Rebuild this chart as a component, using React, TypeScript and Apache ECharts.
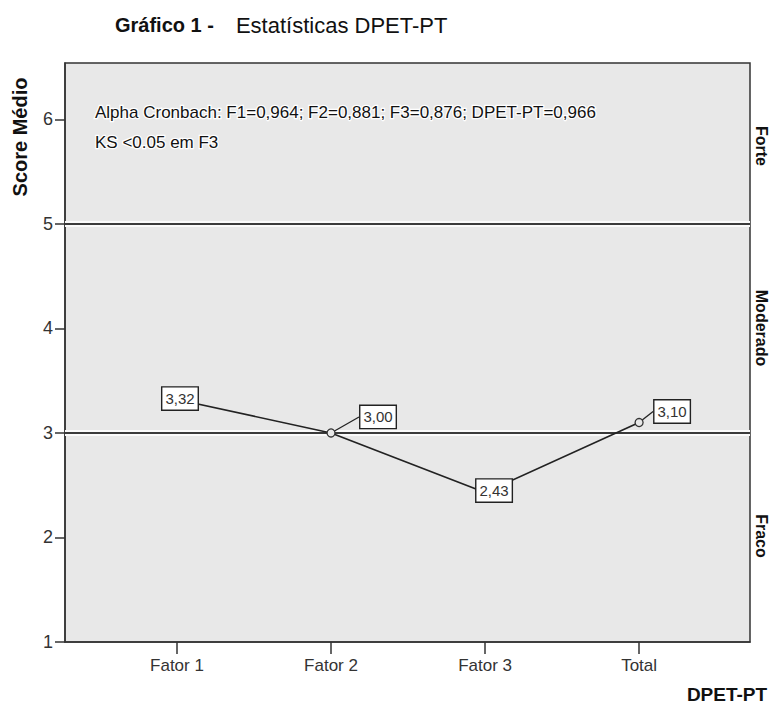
import React, { useEffect, useRef } from "react";
import * as echarts from "echarts";

const categories = ["Fator 1", "Fator 2", "Fator 3", "Total"];
const categoryPositions = [1, 2, 3, 4];
const scores = [3.32, 3.0, 2.43, 3.1];
const yTicks = [1, 2, 3, 4, 5, 6];
const referenceLevels = [3, 5];
const bandLabels = ["Forte", "Moderado", "Fraco"];
const annotationLines = [
  "Alpha Cronbach: F1=0,964; F2=0,881; F3=0,876; DPET-PT=0,966",
  "KS <0.05 em F3",
];
const labelOffsets = [
  [3, -1],
  [47, -16],
  [9, -2],
  [33, -11],
];

const FONT = "'Liberation Sans', Arial, sans-serif";
const INK = "#222";

export default function App() {
  const ref = useRef<HTMLDivElement>(null);
  useEffect(() => {
    if (!ref.current) return;
    const chart = echarts.init(ref.current, undefined, { renderer: "svg" });
    const data = scores.map((v, i) => [categoryPositions[i], v]);
    const bandCenters = [146, 328, 536];
    chart.setOption({
      animation: false,
      backgroundColor: "#ffffff",
      textStyle: { fontFamily: FONT },
      grid: {
        left: 65,
        right: 23,
        top: 63,
        bottom: 65,
        show: true,
        backgroundColor: "#e8e8e8",
        borderColor: "#333",
        borderWidth: 1.5,
      },
      title: {
        text: "{b|Gráfico 1 -}{r|Estatísticas DPET-PT}",
        left: 110,
        top: 9,
        textStyle: {
          rich: {
            b: { fontFamily: FONT, fontWeight: "bold", fontSize: 20, color: "#111", padding: [0, 22, 0, 0] },
            r: { fontFamily: FONT, fontWeight: "normal", fontSize: 22, color: "#111" },
          },
        },
      },
      xAxis: {
        type: "value",
        min: 0.273,
        max: 4.72,
        axisLine: { show: true, lineStyle: { color: "#333", width: 1.5 } },
        axisTick: {
          show: true,
          length: 12,
          customValues: categoryPositions,
          lineStyle: { color: "#333", width: 1.5 },
        },
        axisLabel: {
          customValues: categoryPositions,
          formatter: (v: number) => categories[Math.round(v) - 1] ?? "",
          fontSize: 17,
          color: "#333",
          margin: 15,
          fontFamily: FONT,
        },
        splitLine: { show: false },
      },
      yAxis: {
        type: "value",
        min: 1,
        max: 6.54,
        axisLine: { show: true, lineStyle: { color: "#333", width: 1.5 } },
        axisTick: {
          show: true,
          length: 10,
          customValues: yTicks,
          lineStyle: { color: "#333", width: 1.5 },
        },
        axisLabel: {
          customValues: yTicks,
          fontSize: 18,
          color: "#333",
          margin: 12,
          fontFamily: FONT,
        },
        splitLine: { show: false },
      },
      series: [
        {
          type: "line",
          data: [],
          z: 1,
          silent: true,
          markLine: {
            silent: true,
            symbol: "none",
            label: { show: false },
            data: [
              ...referenceLevels.map((y) => ({ yAxis: y, lineStyle: { color: "#fafafa", width: 6, type: "solid" } })),
              ...referenceLevels.map((y) => ({ yAxis: y, lineStyle: { color: "#3a3a3a", width: 2, type: "solid" } })),
            ],
          },
        },
        {
          type: "line",
          data,
          z: 5,
          symbol: "circle",
          symbolSize: 8,
          lineStyle: { color: INK, width: 1.7 },
          itemStyle: { color: "#e8e8e8", borderColor: "#333", borderWidth: 1.3 },
          label: {
            show: true,
            position: "inside",
            formatter: (p: any) => p.value[1].toFixed(2).replace(".", ","),
            fontSize: 15,
            color: "#333",
            fontFamily: FONT,
            backgroundColor: "#ffffff",
            borderColor: "#222",
            borderWidth: 1.4,
            padding: [4, 3, 3, 3],
          },
          labelLayout: (params: any) => ({
            dx: labelOffsets[params.dataIndex][0],
            dy: labelOffsets[params.dataIndex][1],
          }),
          labelLine: { show: true, lineStyle: { color: INK, width: 1.3 } },
        },
      ],
      graphic: [
        {
          type: "text",
          x: 95,
          y: 112,
          style: {
            text: annotationLines[0],
            fontSize: 17,
            fontFamily: FONT,
            fill: "#111",
            stroke: "#ffffff",
            lineWidth: 2.5,
            textVerticalAlign: "middle",
          },
          z: 10,
        },
        {
          type: "text",
          x: 95,
          y: 142,
          style: {
            text: annotationLines[1],
            fontSize: 17,
            fontFamily: FONT,
            fill: "#111",
            stroke: "#ffffff",
            lineWidth: 2.5,
            textVerticalAlign: "middle",
          },
          z: 10,
        },
        {
          type: "text",
          x: 20,
          y: 137,
          rotation: Math.PI / 2,
          style: {
            text: "Score Médio",
            fontSize: 20,
            fontWeight: "bold",
            fontFamily: FONT,
            fill: "#111",
            textAlign: "center",
            textVerticalAlign: "middle",
          },
        },
        {
          type: "text",
          x: 727,
          y: 694,
          style: {
            text: "DPET-PT",
            fontSize: 19,
            fontWeight: "bold",
            fontFamily: FONT,
            fill: "#111",
            textAlign: "center",
            textVerticalAlign: "middle",
          },
        },
        ...bandLabels.map((t, i) => ({
          type: "text",
          x: 761,
          y: bandCenters[i],
          rotation: -Math.PI / 2,
          style: {
            text: t,
            fontSize: 16,
            fontWeight: "bold",
            fontFamily: FONT,
            fill: "#111",
            textAlign: "center",
            textVerticalAlign: "middle",
          },
        })),
      ],
    });
    return () => chart.dispose();
  }, []);
  return (
    <div
      ref={ref}
      style={{ position: "absolute", left: 0, top: 0, width: 773, height: 707 }}
    />
  );
}
